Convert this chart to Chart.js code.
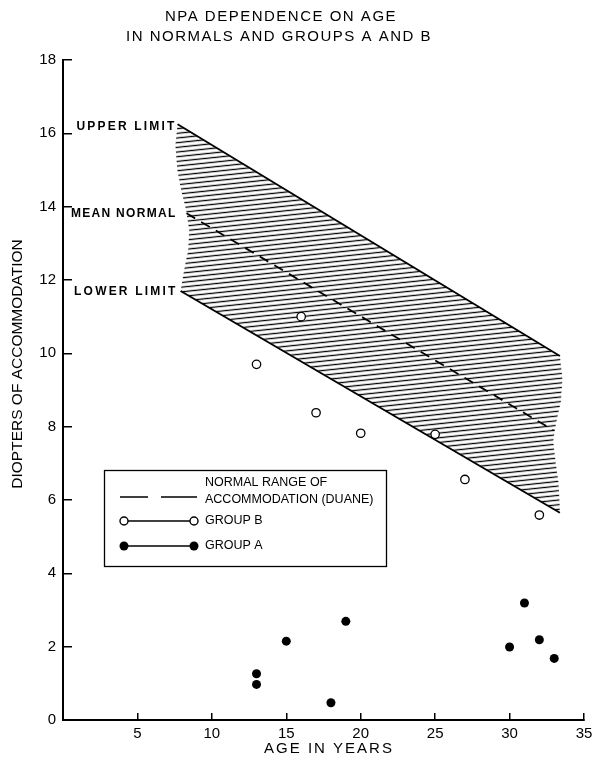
<!DOCTYPE html>
<html><head><meta charset="utf-8">
<script src="https://cdn.jsdelivr.net/npm/chart.js@4"></script>
<style>html,body{margin:0;padding:0;background:#fff}#wrap{width:594px;height:768px}</style>
</head><body><div id="wrap"><canvas id="c" width="594" height="768"></canvas></div>
<script>
// ---- data ----
const titleLines = ['NPA DEPENDENCE ON AGE', 'IN NORMALS AND GROUPS A AND B'];
const xTitle = 'AGE IN YEARS';
const yTitle = 'DIOPTERS OF ACCOMMODATION';
const xTicks = [5, 10, 15, 20, 25, 30, 35];
const yTicks = [0, 2, 4, 6, 8, 10, 12, 14, 16, 18];

const groupBAge = [13, 16, 17, 20, 25, 27, 32];
const groupBNpa = [9.7, 11.0, 8.38, 7.82, 7.79, 6.56, 5.59];

const groupAAge = [13, 13, 15, 18, 19, 30, 31, 32, 33];
const groupANpa = [1.26, 0.97, 2.15, 0.47, 2.69, 1.99, 3.19, 2.19, 1.68];

const upperLimitAge = [7.7, 33.38];
const upperLimit = [16.25, 9.93];
const meanNormalAge = [8.3, 32.95];
const meanNormal = [13.82, 7.9];
const lowerLimitAge = [7.9, 33.38];
const lowerLimit = [11.7, 5.65];

// wavy break edges of the hatched normal range
const rightEdgeAge = [33.38, 33.55, 33.45, 33.1, 32.93, 33.1, 33.28, 33.35, 33.38];
const rightEdgeNpa = [9.93, 9.3, 8.7, 8.05, 7.6, 7.0, 6.5, 6.0, 5.65];
const leftEdgeAge = [7.9, 8.14, 8.41, 8.48, 8.27, 7.94, 7.68, 7.55, 7.7];
const leftEdgeNpa = [11.7, 12.27, 12.82, 13.36, 13.91, 14.45, 15.0, 15.68, 16.25];

const legendLabels = ['NORMAL RANGE OF', 'ACCOMMODATION (DUANE)', 'GROUP B', 'GROUP A'];
const bandLabels = ['UPPER LIMIT', 'MEAN NORMAL', 'LOWER LIMIT'];

// ---- helpers ----
const pts = (xs, ys) => xs.map((x, i) => ({x: x, y: ys[i]}));
const FONT = '"Liberation Sans", Arial, sans-serif';

const canvas = document.getElementById('c');
function makeHatch() {
  const c = document.createElement('canvas');
  c.width = 20; c.height = 5;
  const g = c.getContext('2d');
  g.strokeStyle = '#000'; g.lineWidth = 1.4;
  g.beginPath(); g.moveTo(0, 2.5); g.lineTo(20, 2.5); g.stroke();
  const p = canvas.getContext('2d').createPattern(c, 'repeat');
  p.setTransform(new DOMMatrix().rotateSelf(-6).scaleSelf(1, 0.93));
  return p;
}

const decor = {
  id: 'decor',
  afterDraw(chart) {
    const ctx = chart.ctx;
    const xs = chart.scales.x, ys = chart.scales.y;
    ctx.save();
    ctx.fillStyle = '#000';
    ctx.strokeStyle = '#000';
    // title
    ctx.font = '15px ' + FONT;
    ctx.letterSpacing = '1.5px';
    ctx.textAlign = 'center';
    ctx.textBaseline = 'middle';
    ctx.fillText(titleLines[0], 281, 17);
    ctx.fillText(titleLines[1], 279, 37);
    // x title
    ctx.letterSpacing = '2px';
    ctx.fillText(xTitle, 329, 749);
    // y title
    ctx.save();
    ctx.translate(18, 364);
    ctx.rotate(-Math.PI / 2);
    ctx.letterSpacing = '0px';
    ctx.font = '15.5px ' + FONT;
    ctx.fillText(yTitle, 0, 0);
    ctx.restore();
    // band labels
    ctx.font = 'bold 12px ' + FONT;
    ctx.textAlign = 'right';
    ctx.letterSpacing = '2.2px';
    ctx.fillText(bandLabels[0], xs.getPixelForValue(upperLimitAge[0]) - 1, ys.getPixelForValue(upperLimit[0]) + 3);
    ctx.letterSpacing = '1.3px';
    ctx.fillText(bandLabels[1], xs.getPixelForValue(meanNormalAge[0]) - 10, ys.getPixelForValue(meanNormal[0]) + 0);
    ctx.letterSpacing = '2.2px';
    ctx.fillText(bandLabels[2], xs.getPixelForValue(lowerLimitAge[0]) - 3, ys.getPixelForValue(lowerLimit[0]) + 1);
    // legend box
    ctx.letterSpacing = '0px';
    ctx.fillStyle = '#fff';
    ctx.fillRect(104.5, 470.5, 282, 96);
    ctx.lineWidth = 1.3;
    ctx.strokeRect(104.5, 470.5, 282, 96);
    ctx.fillStyle = '#000';
    ctx.font = '12.5px ' + FONT;
    ctx.textAlign = 'left';
    ctx.fillText(legendLabels[0], 205, 483);
    ctx.fillText(legendLabels[1], 205, 500);
    ctx.fillText(legendLabels[2], 205, 521);
    ctx.fillText(legendLabels[3], 205, 546);
    // dashed sample
    ctx.lineWidth = 1.6;
    ctx.beginPath();
    ctx.moveTo(120, 497); ctx.lineTo(148, 497);
    ctx.moveTo(161, 497); ctx.lineTo(197, 497);
    ctx.stroke();
    // group B sample
    ctx.lineWidth = 1.4;
    ctx.beginPath(); ctx.moveTo(128, 521); ctx.lineTo(190, 521); ctx.stroke();
    ctx.beginPath(); ctx.arc(124, 521, 4, 0, Math.PI * 2); ctx.stroke();
    ctx.beginPath(); ctx.arc(194, 521, 4, 0, Math.PI * 2); ctx.stroke();
    // group A sample
    ctx.beginPath(); ctx.moveTo(124, 546); ctx.lineTo(194, 546); ctx.stroke();
    ctx.beginPath(); ctx.arc(124, 546, 4.5, 0, Math.PI * 2); ctx.fill();
    ctx.beginPath(); ctx.arc(194, 546, 4.5, 0, Math.PI * 2); ctx.fill();
    ctx.restore();
  }
};

const tickFont = {family: FONT, size: 15};

new Chart(canvas, {
  type: 'scatter',
  data: {
    datasets: [
      {label: 'GROUP A', data: pts(groupAAge, groupANpa), pointRadius: 4.5, pointBackgroundColor: '#000', pointBorderColor: '#000', pointBorderWidth: 0},
      {label: 'GROUP B', data: pts(groupBAge, groupBNpa), pointRadius: 4.2, pointBackgroundColor: '#fff', pointBorderColor: '#000', pointBorderWidth: 1.3},
      {label: 'UPPER LIMIT', data: pts(upperLimitAge, upperLimit), showLine: true, pointRadius: 0, borderColor: '#000', borderWidth: 1.8},
      {label: 'MEAN NORMAL', data: pts(meanNormalAge, meanNormal), showLine: true, pointRadius: 0, borderColor: '#000', borderWidth: 1.8, borderDash: [10, 7]},
      {label: 'LOWER LIMIT', data: pts(lowerLimitAge, lowerLimit), showLine: true, pointRadius: 0, borderColor: '#000', borderWidth: 1.8},
      {label: 'NORMAL RANGE', data: pts(rightEdgeAge.concat(leftEdgeAge), rightEdgeNpa.concat(leftEdgeNpa)),
        showLine: true, pointRadius: 0, borderColor: 'rgba(0,0,0,0)', borderWidth: 1, fill: 'shape', backgroundColor: makeHatch()}
    ]
  },
  options: {
    responsive: false,
    animation: false,
    layout: {padding: {left: 0, right: 10, top: 60, bottom: 0}},
    plugins: {legend: {display: false}, tooltip: {enabled: false}, title: {display: false}},
    scales: {
      x: {
        type: 'linear', min: 0, max: 35,
        afterBuildTicks: s => { s.ticks = xTicks.map(v => ({value: v})); },
        afterFit: s => { s.height = 48; s.paddingLeft = 0; s.paddingRight = 0; },
        grid: {drawOnChartArea: false, drawTicks: true, tickLength: -7, color: '#000', lineWidth: 1.5},
        border: {display: true, color: '#000', width: 2},
        ticks: {color: '#000', font: tickFont, padding: 12, maxRotation: 0}
      },
      y: {
        type: 'linear', min: 0, max: 18,
        afterBuildTicks: s => { s.ticks = yTicks.map(v => ({value: v})); },
        afterFit: s => { s.width = 63; s.paddingTop = 0; s.paddingBottom = 0; },
        grid: {drawOnChartArea: false, drawTicks: true, tickLength: -9, color: '#000', lineWidth: 1.5},
        border: {display: true, color: '#000', width: 2},
        ticks: {color: '#000', font: tickFont, padding: 16}
      }
    }
  },
  plugins: [decor]
});
</script></body></html>
